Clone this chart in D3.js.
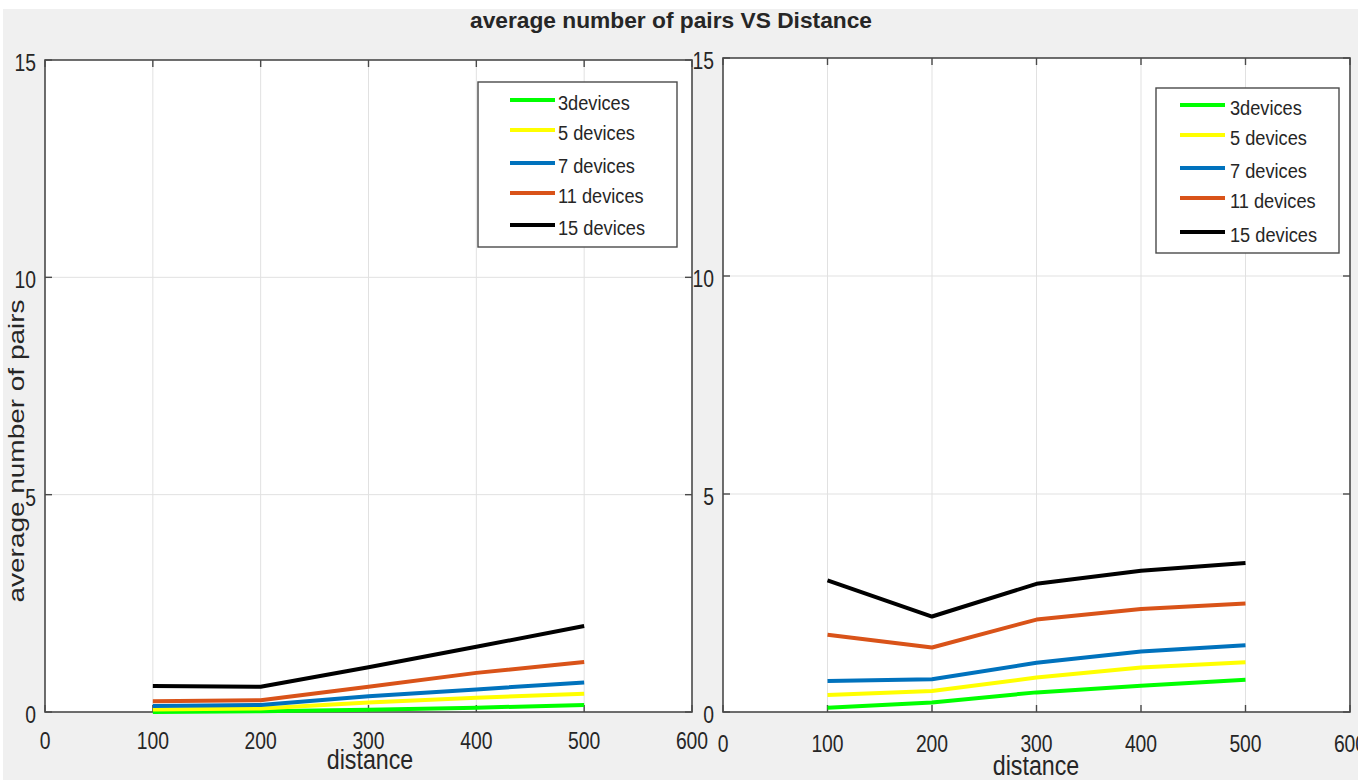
<!DOCTYPE html>
<html>
<head>
<meta charset="utf-8">
<script src="https://cdn.jsdelivr.net/npm/d3@7/dist/d3.min.js"></script>
<style>
  body { margin: 0; background: #fff; }
  text { font-family: "Liberation Sans", Arial, sans-serif; fill: #262626; }
</style>
</head>
<body>
<svg id="chart" width="1369" height="780"></svg>
<script>
// data
const distances = [100, 200, 300, 400, 500];
const seriesNames = ["3devices", "5 devices", "7 devices", "11 devices", "15 devices"];
const xTicks = [0, 100, 200, 300, 400, 500, 600];
const yTicks = [0, 5, 10, 15];

// left panel, one row per series (same order as seriesNames)
const leftValues = [
    [0.00, 0.02, 0.05, 0.10, 0.16],
    [0.06, 0.08, 0.22, 0.33, 0.42],
    [0.14, 0.16, 0.36, 0.52, 0.68],
    [0.25, 0.27, 0.58, 0.90, 1.15],
    [0.60, 0.58, 1.03, 1.50, 1.98]
];

// right panel
const rightValues = [
    [0.10, 0.22, 0.45, 0.60, 0.74],
    [0.39, 0.48, 0.79, 1.02, 1.14],
    [0.71, 0.75, 1.13, 1.39, 1.53],
    [1.77, 1.48, 2.12, 2.36, 2.49],
    [3.02, 2.19, 2.94, 3.24, 3.42]
];

const colors = ["#00ff00", "#ffff00", "#0072bd", "#d95319", "#000000"];

const svg = d3.select("#chart");

// grey figure background
svg.append("rect")
    .attr("x", 3).attr("y", 9)
    .attr("width", 1355).attr("height", 771)
    .attr("fill", "#f0f0f0");

// squeeze text horizontally like the narrow source font
function squeeze(sel, k) {
    sel.each(function () {
        const w = this.getComputedTextLength();
        d3.select(this).attr("textLength", w * k).attr("lengthAdjust", "spacingAndGlyphs");
    });
}

const panels = [
    {
        values: leftValues, left: 45, right: 692, top: 60, bottom: 712,
        xTickBase: 749, labelX: 370, labelY: 769,
        legend: {x: 478, y: 82, w: 199, h: 165, lineX: 510, textX: 558, rows: [100, 130, 163, 193, 225]}
    },
    {
        values: rightValues, left: 723, right: 1350, top: 58, bottom: 712,
        xTickBase: 752, labelX: 1036, labelY: 775,
        legend: {x: 1156, y: 88, w: 183, h: 165, lineX: 1180, textX: 1230, rows: [105, 135, 168, 198, 232]}
    }
];

panels.forEach(p => drawPanel(p));

function drawPanel(p) {
    const x = d3.scaleLinear().domain([0, 600]).range([p.left, p.right]);
    const y = d3.scaleLinear().domain([0, 15]).range([p.bottom, p.top]);

    const g = svg.append("g");

    g.append("rect")
        .attr("x", p.left).attr("y", p.top)
        .attr("width", p.right - p.left).attr("height", p.bottom - p.top)
        .attr("fill", "#fff");

    // grid
    g.selectAll(".vgrid")
        .data(xTicks.slice(1, -1))
        .enter().append("line")
        .attr("x1", d => x(d)).attr("x2", d => x(d))
        .attr("y1", p.top).attr("y2", p.bottom)
        .attr("stroke", "#e1e1e1").attr("stroke-width", 1);

    g.selectAll(".hgrid")
        .data(yTicks.slice(1, -1))
        .enter().append("line")
        .attr("x1", p.left).attr("x2", p.right)
        .attr("y1", d => y(d)).attr("y2", d => y(d))
        .attr("stroke", "#e1e1e1").attr("stroke-width", 1);

    // box and inward ticks
    g.append("rect")
        .attr("x", p.left).attr("y", p.top)
        .attr("width", p.right - p.left).attr("height", p.bottom - p.top)
        .attr("fill", "none").attr("stroke", "#4a4a4a").attr("stroke-width", 1.6);

    const tickLen = 7;
    xTicks.forEach(t => {
        g.append("line").attr("x1", x(t)).attr("x2", x(t))
            .attr("y1", p.bottom).attr("y2", p.bottom - tickLen)
            .attr("stroke", "#4a4a4a").attr("stroke-width", 1.4);
        g.append("line").attr("x1", x(t)).attr("x2", x(t))
            .attr("y1", p.top).attr("y2", p.top + tickLen)
            .attr("stroke", "#4a4a4a").attr("stroke-width", 1.4);
    });
    yTicks.forEach(t => {
        g.append("line").attr("x1", p.left).attr("x2", p.left + tickLen)
            .attr("y1", y(t)).attr("y2", y(t))
            .attr("stroke", "#4a4a4a").attr("stroke-width", 1.4);
        g.append("line").attr("x1", p.right).attr("x2", p.right - tickLen)
            .attr("y1", y(t)).attr("y2", y(t))
            .attr("stroke", "#4a4a4a").attr("stroke-width", 1.4);
    });

    // data lines
    const line = d3.line()
        .x((d, i) => x(distances[i]))
        .y(d => y(d));

    g.selectAll(".series")
        .data(p.values)
        .enter().append("path")
        .attr("d", d => line(d))
        .attr("fill", "none")
        .attr("stroke", (d, i) => colors[i])
        .attr("stroke-width", 4)
        .attr("stroke-linejoin", "round");

    // tick labels
    const xl = g.selectAll(".xlab")
        .data(xTicks)
        .enter().append("text")
        .attr("x", d => x(d)).attr("y", p.xTickBase)
        .attr("text-anchor", "middle")
        .attr("font-size", 23)
        .attr("fill", "#333")
        .text(d => d);
    squeeze(xl, 0.84);

    const yl = g.selectAll(".ylab")
        .data(yTicks)
        .enter().append("text")
        .attr("x", p.left - 9).attr("y", d => y(d) + 3)
        .attr("text-anchor", "end")
        .attr("dominant-baseline", "central")
        .attr("font-size", 23)
        .attr("fill", "#333")
        .text(d => d);
    squeeze(yl, 0.84);

    const lab = g.append("text")
        .attr("x", p.labelX).attr("y", p.labelY)
        .attr("text-anchor", "middle")
        .attr("font-size", 27)
        .attr("fill", "#333")
        .text("distance");
    squeeze(lab, 0.86);

    // legend
    const L = p.legend;
    g.append("rect")
        .attr("x", L.x).attr("y", L.y).attr("width", L.w).attr("height", L.h)
        .attr("fill", "#fff").attr("stroke", "#4a4a4a").attr("stroke-width", 1.4);

    seriesNames.forEach((name, i) => {
        g.append("line")
            .attr("x1", L.lineX).attr("x2", L.lineX + 45)
            .attr("y1", L.rows[i]).attr("y2", L.rows[i])
            .attr("stroke", colors[i]).attr("stroke-width", 4);
        const t = g.append("text")
            .attr("x", L.textX).attr("y", L.rows[i] + 3)
            .attr("dominant-baseline", "central")
            .attr("font-size", 20)
            .attr("fill", "#262626")
            .text(name);
        squeeze(t, 0.91);
    });
}

// y axis label (left panel only)
const ylab = svg.append("text")
    .attr("transform", "translate(24,451) scale(0.77,1) rotate(-90)")
    .attr("text-anchor", "middle")
    .attr("font-size", 28)
    .attr("fill", "#333")
    .text("average number of pairs");
ylab.attr("textLength", 303).attr("lengthAdjust", "spacingAndGlyphs");

// title
svg.append("text")
    .attr("x", 671).attr("y", 28)
    .attr("text-anchor", "middle")
    .attr("font-size", 22)
    .attr("font-weight", "bold")
    .attr("fill", "#000")
    .attr("textLength", 402).attr("lengthAdjust", "spacingAndGlyphs")
    .text("average number of pairs VS Distance");

// white margin on the right edge, as in the screenshot
svg.append("rect")
    .attr("x", 1358).attr("y", 0).attr("width", 11).attr("height", 780)
    .attr("fill", "#fff");
svg.append("rect")
    .attr("x", 0).attr("y", 0).attr("width", 1369).attr("height", 9)
    .attr("fill", "#fff");
</script>
</body>
</html>
